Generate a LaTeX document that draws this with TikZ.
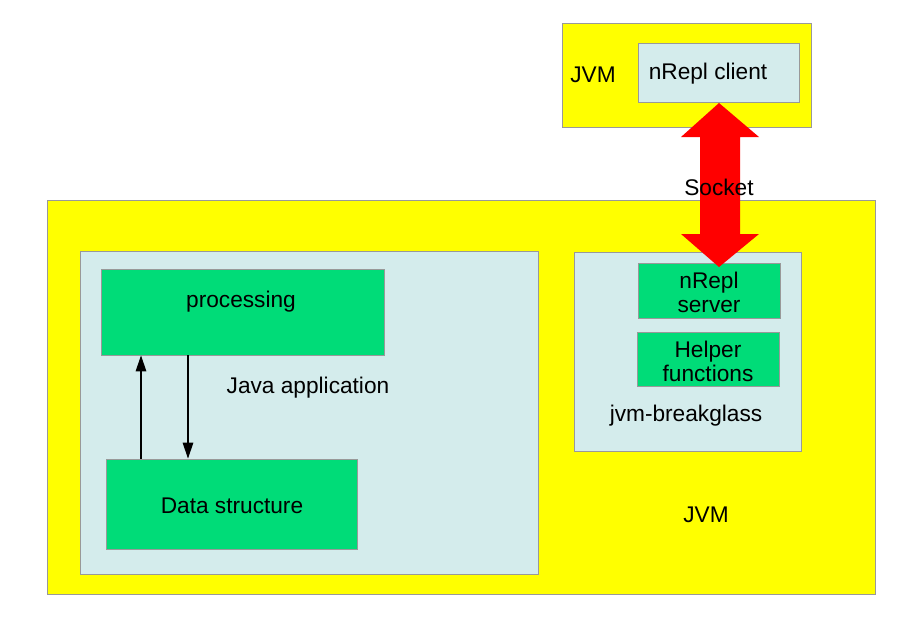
\documentclass[tikz,border=0pt]{standalone}
\usepackage{fontspec}
\setmainfont{Liberation Sans}
\usetikzlibrary{fit,arrows.meta}
\definecolor{jvmyellow}{HTML}{FFFF00}
\definecolor{panelblue}{HTML}{D4ECEC}
\definecolor{boxgreen}{HTML}{00DC78}
\definecolor{bordergray}{HTML}{999999}
\begin{document}
\begin{tikzpicture}[x=0.75pt,y=-0.75pt,
  every node/.style={font=\fontsize{17}{18}\selectfont},
  frame/.style={draw=bordergray,line width=0.7pt,inner sep=0pt},
  jvm/.style={frame,fill=jvmyellow},
  panel/.style={frame,fill=panelblue},
  comp/.style={frame,fill=boxgreen},
  txt/.style={inner sep=0pt,align=center},
  arr/.style={line width=0.8pt,-{Triangle[length=12pt,width=8pt]}}]
\useasboundingbox (0,0) rectangle (924,629);
% top JVM
\node[jvm,fit={(562,23) (811,127)}] (jvmtop) {};
\node[panel,fit={(638,43) (799,102)}] (client) {};
\node[txt] (clienttxt) at (708,74) {nRepl client};
\node[txt] (jvmtoptxt) at (593,75) {JVM};
% big JVM
\node[jvm,fit={(47,200) (875,594)}] (jvmbig) {};
\node[txt] (jvmbigtxt) at (706,515) {JVM};
% java application
\node[panel,fit={(80,251) (538,574)}] (javaapp) {};
\node[comp,fit={(101,269) (384,355)}] (proc) {};
\node[txt] (proctxt) at (241,302) {processing};
\node[comp,fit={(106,459) (357,549)}] (data) {};
\node[txt] (datatxt) at (232,506) {Data structure};
\node[txt] (apptxt) at (308,388) {Java application};
\coordinate (ux) at (141,0);
\coordinate (dx) at (188,0);
\draw[arr] (data.north -| ux) -- (proc.south -| ux);
\draw[arr] (proc.south -| dx) -- (data.north -| dx);
% breakglass
\node[panel,fit={(574,252) (801,451)}] (bg) {};
\node[comp,fit={(638,263) (780,318)}] (server) {};
\node[txt] (servertxt) at (709,292) {nRepl\\server};
\node[comp,fit={(637,332) (779,386)}] (helper) {};
\node[txt] (helpertxt) at (708,361) {Helper\\functions};
\node[txt] (bgtxt) at (686,416) {jvm-breakglass};
% red socket arrow
\coordinate (ttip) at (719,103);
\coordinate (btip) at (719,267);
\fill[red] (ttip) -- ++(-38,34) -- ++(19,0) -- ++(0,97) -- ++(-19,0)
  -- (btip) -- ++(40,-33) -- ++(-19,0) -- ++(0,-97) -- ++(19,0) -- cycle;
\node[txt] (socket) at (719,187) {Socket};
\end{tikzpicture}
\end{document}
